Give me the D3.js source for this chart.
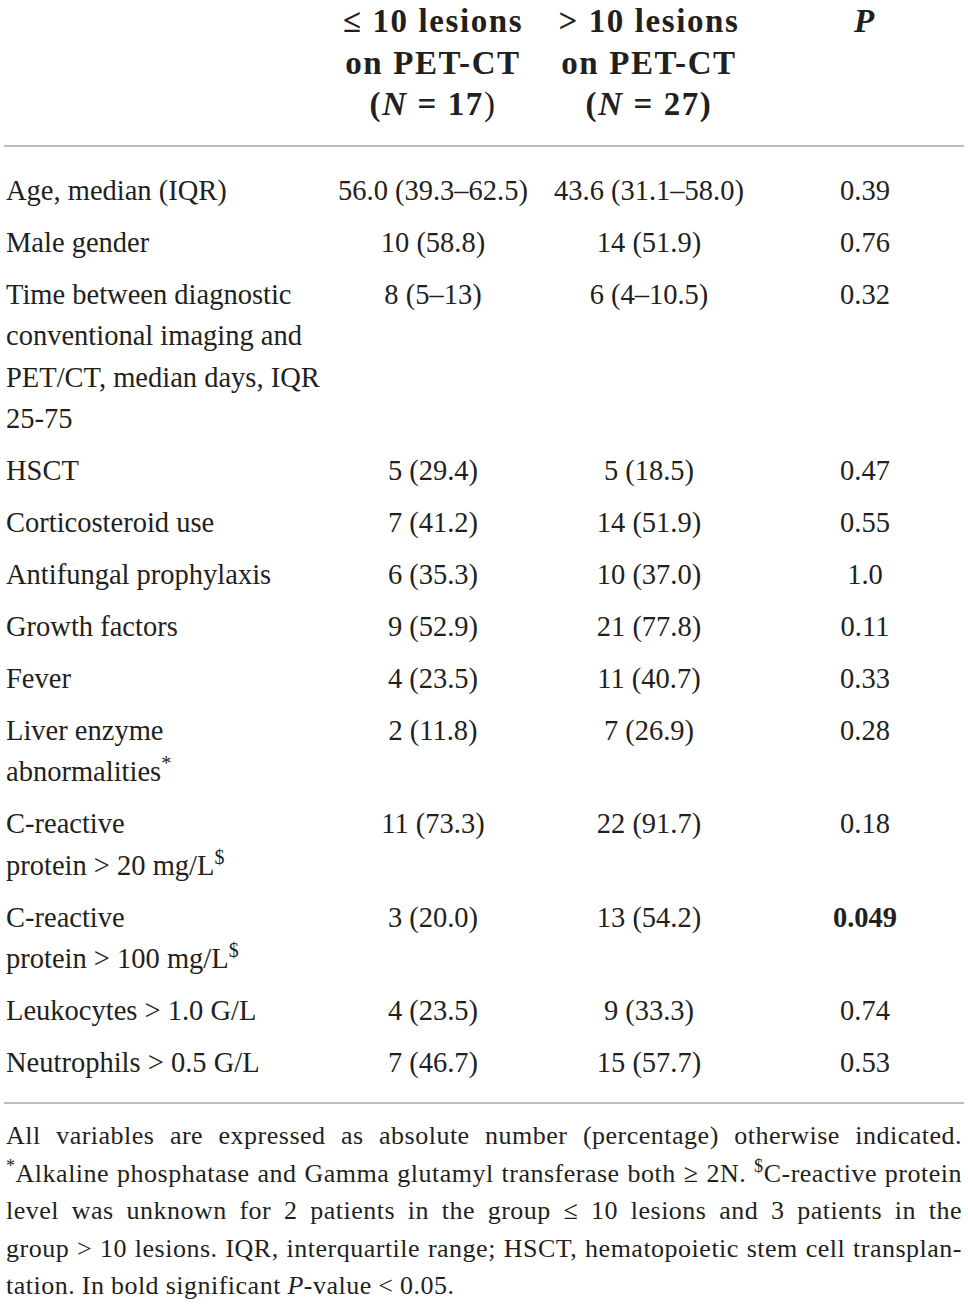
<!DOCTYPE html>
<html>
<head>
<meta charset="utf-8">
<script src="https://cdn.jsdelivr.net/npm/d3@7/dist/d3.min.js"></script>
<style>
  body { margin: 0; background: #fff; }
  svg { display: block; }
  text { font-family: "Liberation Serif", "Times New Roman", serif; fill: #231f20; }
</style>
</head>
<body>
<div id="table"></div>
<script>
// table content
const columns = ["label", "low", "high", "p"]
const headerLines = [
  [[{ t: "≤ 10 lesions" }], [{ t: "> 10 lesions" }], [{ t: "P", i: true }]],
  [[{ t: "on PET-CT" }], [{ t: "on PET-CT" }], []],
  [[{ t: "(" }, { t: "N", i: true }, { t: " = 17" }, { t: ")", light: true }], [{ t: "(" }, { t: "N", i: true }, { t: " = 27)" }], []]
]
const rowLabels = [
  ["Age, median (IQR)"],
  ["Male gender"],
  ["Time between diagnostic", "conventional imaging and", "PET/CT, median days, IQR", "25-75"],
  ["HSCT"],
  ["Corticosteroid use"],
  ["Antifungal prophylaxis"],
  ["Growth factors"],
  ["Fever"],
  ["Liver enzyme", "abnormalities^*"],
  ["C-reactive", "protein > 20 mg/L^$"],
  ["C-reactive", "protein > 100 mg/L^$"],
  ["Leukocytes > 1.0 G/L"],
  ["Neutrophils > 0.5 G/L"]
]
const lowGroup = ["56.0 (39.3–62.5)", "10 (58.8)", "8 (5–13)", "5 (29.4)", "7 (41.2)", "6 (35.3)", "9 (52.9)", "4 (23.5)", "2 (11.8)", "11 (73.3)", "3 (20.0)", "4 (23.5)", "7 (46.7)"]
const highGroup = ["43.6 (31.1–58.0)", "14 (51.9)", "6 (4–10.5)", "5 (18.5)", "14 (51.9)", "10 (37.0)", "21 (77.8)", "11 (40.7)", "7 (26.9)", "22 (91.7)", "13 (54.2)", "9 (33.3)", "15 (57.7)"]
const pValues = ["0.39", "0.76", "0.32", "0.47", "0.55", "1.0", "0.11", "0.33", "0.28", "0.18", "0.049", "0.74", "0.53"]
const footLines = [
  "All variables are expressed as absolute number (percentage) otherwise indicated.",
  "^*Alkaline phosphatase and Gamma glutamyl transferase both ≥ 2N. ^$C-reactive protein",
  "level was unknown for 2 patients in the group ≤ 10 lesions and 3 patients in the",
  "group > 10 lesions. IQR, interquartile range; HSCT, hematopoietic stem cell transplan-",
  "tation. In bold significant _P-value < 0.05."
]

const width = 968
const height = 1305
const left = 6
const right = 962
const bodySize = 28.5
const headSize = 33
const footSize = 26
const firstBase = 200
const rowGap = 52
const lineGap = 41.3

const svg = d3.select("#table").append("svg")
  .attr("width", width)
  .attr("height", height)
  .attr("viewBox", [0, 0, width, height])

svg.append("rect").attr("width", width).attr("height", height).attr("fill", "#fff")

const x = d3.scaleOrdinal()
  .domain(columns)
  .range([left, 433, 649, 865])

// baseline of each body row: rows step by rowGap, wrapped lines add lineGap
let extra = 0
const rowBase = rowLabels.map((lines, i) => {
  const b = firstBase + i * rowGap + extra * lineGap
  extra += lines.length - 1
  return b
})

// split "^x" superscripts and "_x" italic markers into segments
function segments(str) {
  const out = []
  let buf = ""
  for (let k = 0; k < str.length; k++) {
    if (str[k] == "^" || str[k] == "_") {
      if (buf) out.push({ t: buf })
      buf = ""
      out.push(str[k] == "^" ? { t: str[k + 1], sup: true } : { t: str[k + 1], i: true })
      k++
    } else {
      buf += str[k]
    }
  }
  if (buf) out.push({ t: buf })
  return out
}

function fillText(sel, segs, size) {
  let shift = 0
  segs.forEach(s => {
    const up = s.sup ? -Math.round(size * 0.4) : 0
    sel.append("tspan")
      .attr("dy", up - shift)
      .attr("font-size", s.sup ? size * 0.7 : null)
      .attr("font-style", s.i ? "italic" : null)
      .attr("font-weight", s.light ? "normal" : null)
      .text(s.t)
    shift = up
  })
}

// header
const head = svg.append("g").attr("font-weight", "bold").attr("font-size", headSize)
headerLines.forEach((line, li) => {
  line.forEach((segs, ci) => {
    if (!segs.length) return
    const t = head.append("text")
      .attr("x", x(columns[ci + 1]))
      .attr("y", 32 + li * 41.5)
      .attr("text-anchor", "middle")
      .attr("letter-spacing", 1.6)
    fillText(t, segs, headSize)
  })
})

svg.append("line")
  .attr("x1", 4).attr("x2", 964)
  .attr("y1", 146).attr("y2", 146)
  .attr("stroke", "#a7a9ac").attr("stroke-width", 1.6)

// body rows
const body = svg.append("g").attr("font-size", bodySize)
const rows = body.selectAll("g.row")
  .data(rowLabels.map((lines, i) => ({ lines, low: lowGroup[i], high: highGroup[i], p: pValues[i], base: rowBase[i] })))
  .join("g")
  .attr("class", "row")

rows.each(function (d) {
  const g = d3.select(this)
  d.lines.forEach((ln, k) => {
    const t = g.append("text").attr("x", x("label")).attr("y", d.base + k * lineGap)
    fillText(t, segments(ln), bodySize)
  })
  g.append("text").attr("x", x("low")).attr("y", d.base).attr("text-anchor", "middle").text(d.low)
  g.append("text").attr("x", x("high")).attr("y", d.base).attr("text-anchor", "middle").text(d.high)
  g.append("text").attr("x", x("p")).attr("y", d.base).attr("text-anchor", "middle")
    .attr("font-weight", +d.p < 0.05 ? "bold" : null)
    .text(d.p)
})

svg.append("line")
  .attr("x1", 4).attr("x2", 964)
  .attr("y1", 1103).attr("y2", 1103)
  .attr("stroke", "#a7a9ac").attr("stroke-width", 1.6)

// footnote, justified word by word
const foot = svg.append("g").attr("font-size", footSize).attr("letter-spacing", 0.5)
footLines.forEach((ln, li) => {
  const y = 1144 + li * 37.5
  const line = foot.append("g")
  const words = ln.split(" ").map(w => {
    const t = line.append("text").attr("y", y)
    fillText(t, segments(w), footSize)
    return { t, w: t.node().getComputedTextLength() }
  })
  const total = d3.sum(words, d => d.w)
  const last = li == footLines.length - 1
  let gap = last ? footSize * 0.25 : (right - left - total) / (words.length - 1)
  let scale = 1
  if (gap < 4) {
    gap = 4
    scale = (right - left) / (total + gap * (words.length - 1))
  }
  let cx = left
  words.forEach(d => {
    d.t.attr("x", cx)
    cx += d.w + gap
  })
  if (scale != 1) line.attr("transform", `translate(${left},0) scale(${scale},1) translate(${-left},0)`)
})
</script>
</body>
</html>
